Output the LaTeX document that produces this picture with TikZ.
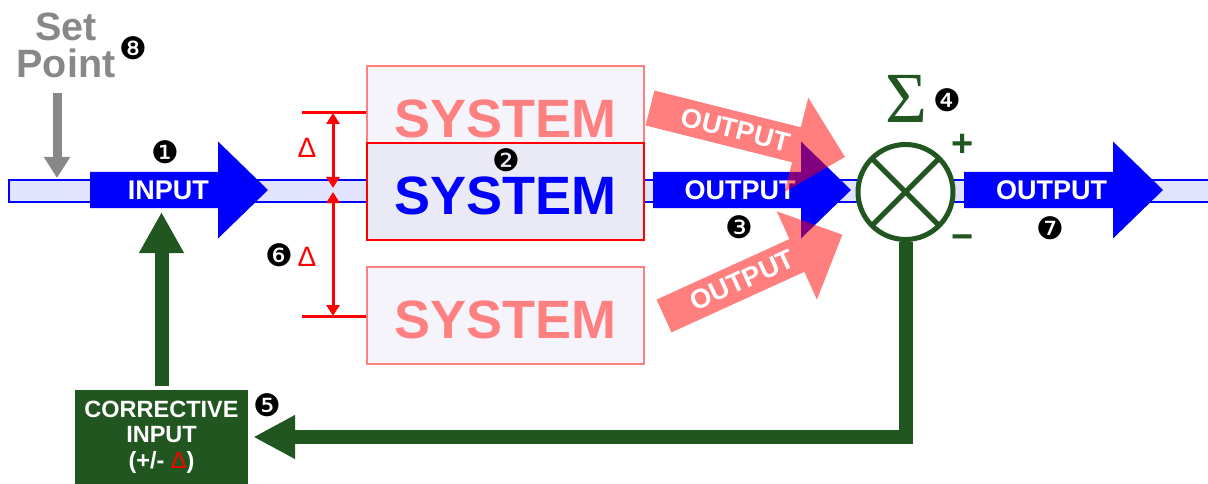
\documentclass[tikz,border=0pt]{standalone}
\usepackage{fontspec}
\setmainfont{Liberation Sans}
\newfontfamily\badgefont{DejaVu Sans}
\newfontfamily\greekserif{Liberation Serif}
\usetikzlibrary{arrows.meta}
\definecolor{barfill}{RGB}{226,228,255}
\definecolor{fg}{RGB}{33,86,33}
\definecolor{pinkc}{RGB}{255,128,128}
\definecolor{boxfill}{RGB}{234,234,246}
\definecolor{fadefill}{RGB}{244,244,250}
\definecolor{spgray}{RGB}{136,136,136}
\tikzset{dimtip/.tip={Triangle[width=13pt,length=11pt]}}
\newcommand\fatarrow[6]{%
  \begin{scope}[shift={#2}, rotate=#3]
    \fill[#5] (0,-18) -- ({#4-50},-18) -- ({#4-50},-48.5) -- (#4,0) -- ({#4-50},48.5) -- ({#4-50},18) -- (0,18) -- cycle;
    \node[arrowtext, transform shape] (#1) at ({0.44*#4},0) {#6};
  \end{scope}}
\begin{document}
\begin{tikzpicture}[x=1pt,y=-1pt,
  badge/.style={font=\badgefont\fontsize{31}{31}\selectfont, inner sep=0, text=black},
  arrowtext/.style={text=white, font=\bfseries\fontsize{27}{27}\selectfont, inner sep=0},
  sysbox/.style={minimum width=277pt, minimum height=97pt, inner sep=0, line width=2pt,
    font=\bfseries\fontsize{54}{54}\selectfont, text height=46pt},
  fadebox/.style={sysbox, draw=pinkc, fill=fadefill, text=pinkc},
  mainbox/.style={sysbox, draw=red, fill=boxfill, text=blue},
  dimline/.style={draw=red, line width=3pt},
  delta/.style={text=red, font=\fontsize{28}{28}\selectfont, inner sep=0},
  fgline/.style={draw=fg, line width=14pt},
  pm/.style={text=fg, font=\bfseries\fontsize{38}{38}\selectfont, inner sep=0}
]
\useasboundingbox (0,0) rectangle (1208,484);

% signal bar
\draw[draw=blue, fill=barfill, line width=1.5pt] (9,180) rectangle (1212,202);

% set point
\node[font=\bfseries\fontsize{39.5}{37}\selectfont, text=spgray, align=center, inner sep=0] (sp) at (66,45) {Set\\Point};
\node[badge] (b8) at (133,48) {❽};
\coordinate (spstart) at (57,93);
\coordinate (spend) at (57,178);
\draw[spgray, line width=9pt, -{Triangle[width=25pt,length=21pt]}] (spstart) -- (spend);

% systems
\node[fadebox] (sysT) at (505.5,114.5) {SYSTEM};
\node[fadebox] (sysB) at (505.5,315.5) {SYSTEM};
\node[mainbox] (sysM) at (505.5,191.5) {SYSTEM};
\node[badge] (b2) at (506,160) {❷};

% dimension lines
\coordinate (dT) at (302,113);
\coordinate (dB) at (302,316);
\draw[dimline] (dT) -- (sysT.west |- dT);
\draw[dimline] (dB) -- (sysB.west |- dB);
\coordinate (vT) at (333,113);
\coordinate (vM1) at (333,188);
\coordinate (vM2) at (333,192);
\coordinate (vB) at (333,316);
\draw[dimline, dimtip-dimtip] (vT) -- (vM1);
\draw[dimline, dimtip-dimtip] (vM2) -- (vB);
\node[delta] (d1) at (307,148) {Δ};
\node[delta] (d2) at (307,257) {Δ};
\node[badge] (b6) at (279,255) {❻};

% blue arrows
\fatarrow{inA}{(90,190)}{0}{178}{blue}{INPUT}
\fatarrow{outA}{(653,190)}{0}{198}{blue}{OUTPUT}
\fatarrow{outC}{(964,190)}{0}{199}{blue}{OUTPUT}
\node[badge] (b1) at (165,152) {❶};
\node[badge] (b3) at (739,227) {❸};
\node[badge] (b7) at (1050,228) {❼};

% faded arrows
\fatarrow{outT}{(650,108)}{-14.1}{201}{red, fill opacity=0.5}{OUTPUT}
\fatarrow{outB}{(664,316)}{24.5}{196}{red, fill opacity=0.5}{OUTPUT}

% summing junction
\node[circle, draw=fg, line width=5pt, fill=white, minimum size=95pt, inner sep=0] (sum) at (905.5,192) {};
\draw[fg, line width=5pt, shorten <=2.5pt, shorten >=2.5pt] (sum.north east) -- (sum.south west);
\draw[fg, line width=5pt, shorten <=2.5pt, shorten >=2.5pt] (sum.north west) -- (sum.south east);
\node[text=fg, font=\greekserif\fontsize{72}{72}\selectfont, inner sep=0] (sig) at (906,99) {Σ};
\node[badge] (b4) at (947,100) {❹};
\node[pm] (plus) at (963,145) {+};
\node[pm] (minus) at (963,242) {−};

% corrective input
\node[fill=fg, minimum width=173pt, minimum height=94pt, inner sep=0, text=white, align=center,
  font=\bfseries\fontsize{23.5}{25.5}\selectfont] (corr) at (161.5,437) {CORRECTIVE\\INPUT\\(+/- {\color{red}\mdseries Δ})};
\node[badge] (b5) at (267,405) {❺};
\coordinate (uptip) at (161.5,212);
\draw[fgline, shorten <=4pt, -{Triangle[width=42pt,length=41pt]}] (corr.north) -- (uptip);
\draw[fgline, shorten >=5pt, -{Triangle[width=41pt,length=42pt]}] (sum.south) |- (corr.east);
\end{tikzpicture}
\end{document}
